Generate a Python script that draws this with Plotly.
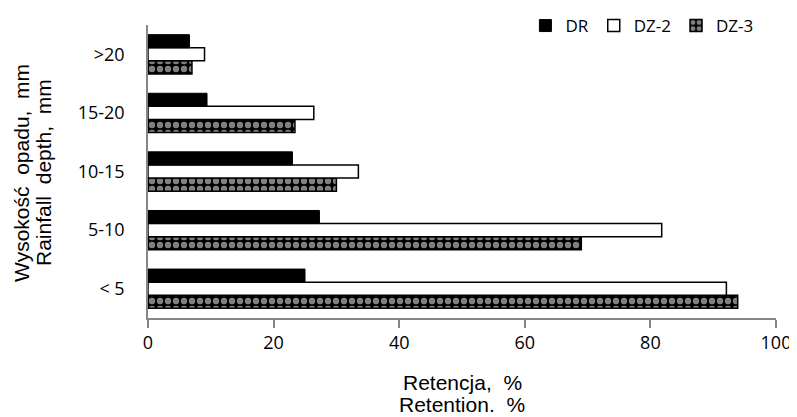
import plotly.graph_objects as go

categories = ["< 5", "5-10", "10-15", "15-20", ">20"]
dr = [25.0, 27.3, 23.0, 9.4, 6.6]
dz2 = [92.1, 81.8, 33.5, 26.4, 9.0]
dz3 = [93.9, 69.0, 30.0, 23.4, 7.0]
x_title = ["Retencja,  %", "Retention.  %"]
y_title = ["Wysokość  opadu,  mm", "Rainfall  depth,  mm"]

fig = go.Figure()
fig.add_trace(go.Bar(
    y=categories, x=dz3, name="DZ-3", orientation="h",
    marker=dict(color="black", line=dict(color="black", width=1.5),
                pattern=dict(shape=".", fgcolor="white", bgcolor="black", size=8, solidity=0.5)),
    legendrank=3,
))
fig.add_trace(go.Bar(
    y=categories, x=dz2, name="DZ-2", orientation="h",
    marker=dict(color="white", line=dict(color="black", width=1.5)),
    legendrank=2,
))
fig.add_trace(go.Bar(
    y=categories, x=dr, name="DR", orientation="h",
    marker=dict(color="black", line=dict(color="black", width=1)),
    legendrank=1,
))

title_font = dict(family="Liberation Sans", size=21, color="black")
annotations = []
for txt, ys in zip(x_title, [-64, -86]):
    annotations.append(dict(text=txt, xref="paper", yref="paper", x=0.5, y=0,
                            xanchor="center", yanchor="middle", yshift=ys,
                            showarrow=False, font=title_font))
for txt, xs in zip(y_title, [-127, -105]):
    annotations.append(dict(text=txt, xref="paper", yref="paper", x=0, y=0.5,
                            xanchor="center", yanchor="middle", xshift=xs, yshift=-10,
                            textangle=-90, showarrow=False, font=title_font))

fig.update_layout(
    width=789, height=409,
    margin=dict(l=140, r=21, t=0, b=99),
    paper_bgcolor="white", plot_bgcolor="white",
    barmode="group", bargap=0.33, bargroupgap=0,
    font=dict(family="Open Sans", size=16, color="black"),
    legend=dict(orientation="h", x=0.972, xanchor="right", y=1.0, yanchor="top",
                font=dict(size=17), traceorder="normal", itemwidth=30,
                bgcolor="rgba(0,0,0,0)"),
    annotations=annotations,
    xaxis=dict(range=[0, 100], dtick=20, showgrid=False, zeroline=False,
               showline=True, linecolor="#868686", linewidth=1.5,
               ticks="outside", ticklen=8, tickcolor="#868686", tickwidth=1.5,
               tickfont=dict(size=18), automargin=False),
    yaxis=dict(categoryorder="array", categoryarray=categories,
               domain=[0, 0.9452],
               showgrid=False, zeroline=False, showline=True, linecolor="#868686",
               linewidth=1.5, ticks="", ticklabelstandoff=18,
               tickfont=dict(size=18), automargin=False),
)

fig.write_html("out.html")
